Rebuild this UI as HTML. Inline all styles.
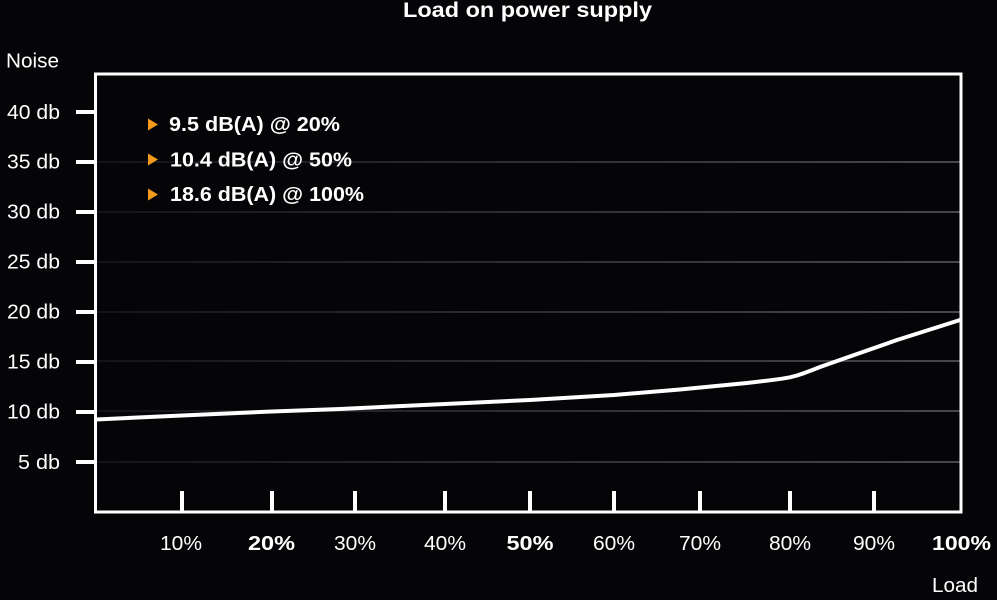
<!DOCTYPE html>
<html>
<head>
<meta charset="utf-8">
<style>
  html, body { margin: 0; padding: 0; background: #050407; }
  svg { display: block; }
  text { font-family: "Liberation Sans", Arial, sans-serif; fill: #ffffff; }
</style>
</head>
<body>
<svg width="997" height="600" viewBox="0 0 997 600" xmlns="http://www.w3.org/2000/svg">
  <defs>
    <linearGradient id="gl" x1="95" y1="0" x2="961" y2="0" gradientUnits="userSpaceOnUse">
      <stop offset="0" stop-color="#141318"/>
      <stop offset="0.35" stop-color="#26252a"/>
      <stop offset="1" stop-color="#47464a"/>
    </linearGradient>
  </defs>
  <rect x="0" y="0" width="997" height="600" fill="#050407"/>

  <!-- Title -->
  <text x="403" y="17" font-size="21" font-weight="bold" textLength="249" lengthAdjust="spacingAndGlyphs">Load on power supply</text>

  <!-- Axis title -->
  <text x="6" y="67.5" font-size="20" textLength="53" lengthAdjust="spacingAndGlyphs">Noise</text>
  <text x="932" y="592" font-size="20" textLength="46" lengthAdjust="spacingAndGlyphs">Load</text>

  <!-- Gridlines -->
  <g stroke="url(#gl)" stroke-width="2">
    <line x1="96" y1="162" x2="960" y2="162"/>
    <line x1="96" y1="212" x2="960" y2="212"/>
    <line x1="96" y1="262" x2="960" y2="262"/>
    <line x1="96" y1="312" x2="960" y2="312"/>
    <line x1="96" y1="361" x2="960" y2="361"/>
    <line x1="96" y1="411" x2="960" y2="411"/>
    <line x1="96" y1="462" x2="960" y2="462"/>
  </g>

  <!-- Y ticks -->
  <g stroke="#ffffff" stroke-width="4">
    <line x1="76" y1="112" x2="95" y2="112"/>
    <line x1="76" y1="162" x2="95" y2="162"/>
    <line x1="76" y1="212" x2="95" y2="212"/>
    <line x1="76" y1="262" x2="95" y2="262"/>
    <line x1="76" y1="312" x2="95" y2="312"/>
    <line x1="76" y1="362" x2="95" y2="362"/>
    <line x1="76" y1="412" x2="95" y2="412"/>
    <line x1="76" y1="462" x2="95" y2="462"/>
  </g>

  <!-- Y labels -->
  <g font-size="20" text-anchor="end">
    <text x="60" y="119" textLength="53" lengthAdjust="spacingAndGlyphs">40 db</text>
    <text x="60" y="168.5" textLength="53" lengthAdjust="spacingAndGlyphs">35 db</text>
    <text x="60" y="218.5" textLength="53" lengthAdjust="spacingAndGlyphs">30 db</text>
    <text x="60" y="268.5" textLength="53" lengthAdjust="spacingAndGlyphs">25 db</text>
    <text x="60" y="318.5" textLength="53" lengthAdjust="spacingAndGlyphs">20 db</text>
    <text x="60" y="368.5" textLength="53" lengthAdjust="spacingAndGlyphs">15 db</text>
    <text x="60" y="418.5" textLength="53" lengthAdjust="spacingAndGlyphs">10 db</text>
    <text x="60" y="469" textLength="42" lengthAdjust="spacingAndGlyphs">5 db</text>
  </g>

  <!-- X ticks -->
  <g stroke="#ffffff" stroke-width="4">
    <line x1="182" y1="491" x2="182" y2="512"/>
    <line x1="272" y1="491" x2="272" y2="512"/>
    <line x1="355" y1="491" x2="355" y2="512"/>
    <line x1="445" y1="491" x2="445" y2="512"/>
    <line x1="530" y1="491" x2="530" y2="512"/>
    <line x1="614" y1="491" x2="614" y2="512"/>
    <line x1="700" y1="491" x2="700" y2="512"/>
    <line x1="790" y1="491" x2="790" y2="512"/>
    <line x1="874" y1="491" x2="874" y2="512"/>
  </g>

  <!-- X labels -->
  <g font-size="20" text-anchor="middle">
    <text x="181" y="550" textLength="42" lengthAdjust="spacingAndGlyphs">10%</text>
    <text x="271.5" y="550" font-weight="bold" textLength="47" lengthAdjust="spacingAndGlyphs">20%</text>
    <text x="355" y="550" textLength="42" lengthAdjust="spacingAndGlyphs">30%</text>
    <text x="445" y="550" textLength="42" lengthAdjust="spacingAndGlyphs">40%</text>
    <text x="530" y="550" font-weight="bold" textLength="47" lengthAdjust="spacingAndGlyphs">50%</text>
    <text x="614" y="550" textLength="42" lengthAdjust="spacingAndGlyphs">60%</text>
    <text x="700" y="550" textLength="42" lengthAdjust="spacingAndGlyphs">70%</text>
    <text x="790" y="550" textLength="42" lengthAdjust="spacingAndGlyphs">80%</text>
    <text x="874" y="550" textLength="42" lengthAdjust="spacingAndGlyphs">90%</text>
    <text x="961.5" y="550" font-weight="bold" textLength="59" lengthAdjust="spacingAndGlyphs">100%</text>
  </g>

  <!-- Plot frame -->
  <rect x="95.5" y="74" width="865.5" height="438" fill="none" stroke="#ffffff" stroke-width="3"/>

  <!-- Curve -->
  <polyline fill="none" stroke="#ffffff" stroke-width="4" stroke-linejoin="round" stroke-linecap="round"
    points="96,419.5 182,415.5 272,411.5 340,409 445,404 530,400 614,395 680,389.5 747,383 770,380.3 782,378.7 790,377.3 797,375.5 805,372.8 813,369.8 820,367 847,357.5 897,340 960,320"/>

  <!-- Legend -->
  <g fill="#f39a1e">
    <polygon points="148,118.5 158,124.5 148,130.5"/>
    <polygon points="148,153.5 158,159.5 148,165.5"/>
    <polygon points="148,188.5 158,194.5 148,200.5"/>
  </g>
  <g font-size="20" font-weight="bold">
    <text x="169" y="131" textLength="171" lengthAdjust="spacingAndGlyphs">9.5 dB(A) @ 20%</text>
    <text x="170" y="166.5" textLength="182" lengthAdjust="spacingAndGlyphs">10.4 dB(A) @ 50%</text>
    <text x="170" y="201" textLength="194" lengthAdjust="spacingAndGlyphs">18.6 dB(A) @ 100%</text>
  </g>
</svg>
</body>
</html>
